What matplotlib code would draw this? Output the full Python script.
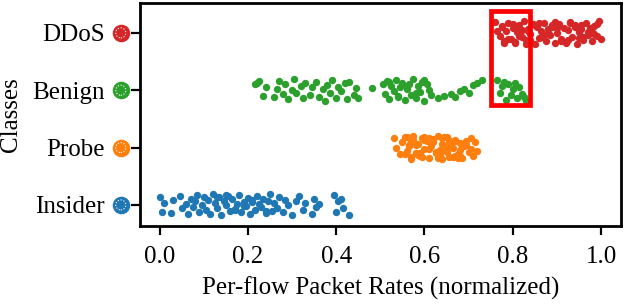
import matplotlib
matplotlib.use("Agg")
import matplotlib.pyplot as plt
import matplotlib.transforms as mtransforms
from matplotlib.patches import Rectangle

plt.rcParams['font.family'] = ['Liberation Serif', 'DejaVu Serif']

classes = ["Insider", "Probe", "Benign", "DDoS"]
colors = ["#1f77b4", "#ff7f0e", "#2ca02c", "#d62728"]

# normalized per-flow packet rates
insider_x = [0.00, 0.005, 0.01, 0.025, 0.03, 0.045, 0.05, 0.06, 0.065, 0.07,
             0.075, 0.08, 0.085, 0.09, 0.095, 0.10, 0.105, 0.11, 0.115, 0.12,
             0.125, 0.13, 0.135, 0.14, 0.145, 0.15, 0.155, 0.16, 0.165, 0.17,
             0.175, 0.18, 0.185, 0.19, 0.195, 0.20, 0.205, 0.21, 0.215, 0.22,
             0.225, 0.23, 0.235, 0.24, 0.245, 0.25, 0.255, 0.26, 0.265, 0.27,
             0.28, 0.285, 0.29, 0.30, 0.31, 0.315, 0.325, 0.33, 0.345, 0.35,
             0.355, 0.36, 0.395, 0.40, 0.405, 0.41, 0.415, 0.43, 0.13, 0.17,
             0.21, 0.24, 0.15, 0.19]
insider_jit = [0.14, -0.12, 0.03, -0.14, 0.09, 0.15, -0.06, 0.02, -0.16, 0.11,
               -0.03, 0.06, 0.17, -0.12, 0.00, 0.13, -0.08, 0.08, -0.15, 0.19,
               0.04, -0.05, 0.14, -0.18, 0.07, -0.01, 0.16, -0.11, 0.10, -0.07,
               0.01, 0.18, -0.13, 0.05, -0.02, 0.12, -0.16, 0.08, -0.09, 0.15,
               0.02, -0.04, 0.11, -0.14, 0.06, 0.19, -0.10, 0.03, -0.06, 0.13,
               -0.12, 0.09, 0.00, -0.17, 0.07, 0.16, -0.08, 0.04, -0.15, 0.11,
               -0.03, 0.01, 0.17, -0.13, 0.06, 0.10, -0.05, -0.18, 0.14, -0.09,
               0.05, -0.11, 0.18, -0.02]

probe_x = [0.53, 0.535, 0.545, 0.55, 0.555, 0.56, 0.565, 0.57, 0.575, 0.58,
           0.585, 0.59, 0.595, 0.60, 0.605, 0.61, 0.615, 0.62, 0.625, 0.63,
           0.635, 0.64, 0.645, 0.65, 0.655, 0.66, 0.665, 0.67, 0.675, 0.68,
           0.685, 0.69, 0.695, 0.70, 0.705, 0.71, 0.56, 0.57, 0.58, 0.59,
           0.60, 0.61, 0.62, 0.63, 0.64, 0.65, 0.66, 0.67, 0.68, 0.69,
           0.555, 0.575, 0.595, 0.615, 0.635, 0.655, 0.675, 0.695, 0.715, 0.72,
           0.565, 0.585, 0.605, 0.625, 0.645, 0.665, 0.685, 0.705, 0.59, 0.62,
           0.64, 0.66, 0.60, 0.63, 0.65, 0.67, 0.61, 0.68, 0.57, 0.58]
probe_jit = [0.16, 0.00, -0.12, 0.09, 0.19, -0.06, 0.04, -0.17, 0.13, -0.09,
             0.07, -0.15, 0.17, -0.02, 0.11, -0.19, 0.03, 0.15, -0.08, 0.20,
             -0.13, 0.06, -0.04, 0.18, -0.16, 0.10, -0.01, 0.14, -0.11, 0.08,
             -0.18, 0.02, 0.12, -0.07, 0.16, -0.14, 0.19, -0.20, 0.05, -0.10,
             0.14, -0.03, 0.09, -0.18, 0.17, -0.08, 0.01, 0.12, -0.15, 0.06,
             -0.11, 0.20, -0.16, 0.08, -0.05, 0.13, -0.19, 0.04, 0.10, -0.06,
             0.02, -0.13, 0.15, -0.09, 0.18, -0.17, 0.07, -0.02, -0.12, 0.11,
             -0.20, 0.03, 0.19, -0.07, 0.05, -0.14, 0.16, -0.04, 0.09, -0.10]

benign_x = [0.215, 0.22, 0.225, 0.235, 0.24,
            0.26, 0.265, 0.27, 0.28, 0.285, 0.29, 0.30, 0.305, 0.31, 0.32,
            0.325, 0.33, 0.34, 0.345,
            0.355, 0.36, 0.37, 0.375, 0.38, 0.385, 0.39, 0.40, 0.405, 0.41,
            0.42, 0.425, 0.43, 0.44, 0.445, 0.45,
            0.48, 0.505,
            0.51, 0.515, 0.52, 0.525, 0.53, 0.535, 0.54, 0.545, 0.55, 0.555,
            0.56, 0.565, 0.57, 0.575, 0.58, 0.585, 0.59, 0.595, 0.60, 0.605,
            0.61, 0.615, 0.52, 0.54, 0.56, 0.58, 0.60,
            0.63, 0.645, 0.66, 0.67, 0.68, 0.69, 0.70, 0.71, 0.72, 0.73,
            0.765, 0.77, 0.775, 0.78, 0.785, 0.79, 0.795, 0.80, 0.805, 0.81,
            0.815, 0.82, 0.825, 0.83]
benign_jit = [0.10, 0.13, 0.16, -0.10, 0.05,
              -0.12, 0.03, 0.16, -0.07, 0.10, -0.16, 0.00, 0.19, -0.04, 0.08,
              -0.14, 0.12, -0.09, 0.05,
              0.14, -0.11, 0.02, -0.18, 0.09, -0.05, 0.17, -0.13, 0.06, -0.02,
              0.12, -0.16, 0.15, -0.08, 0.04, -0.14,
              0.04, 0.11,
              -0.06, 0.16, -0.15, 0.08, -0.01, 0.18, -0.10, 0.05, 0.13, -0.17,
              0.02, 0.10, -0.08, 0.19, -0.13, 0.07, -0.03, 0.15, -0.18, 0.11,
              0.00, -0.09, 0.14, -0.12, 0.06, -0.05, 0.17,
              -0.14, -0.10, -0.06, -0.12, -0.01, 0.03, -0.04, 0.09, 0.13, 0.18,
              0.18, -0.04, 0.08, 0.15, -0.17, 0.11, -0.09, 0.03, 0.13, -0.14,
              0.06, -0.06, -0.12, -0.18]

ddos_x = [0.76, 0.77, 0.775, 0.78, 0.785, 0.79, 0.795, 0.80, 0.805, 0.81,
          0.815, 0.82, 0.825, 0.83, 0.835, 0.84, 0.845, 0.85, 0.855, 0.86,
          0.865, 0.87, 0.875, 0.88, 0.885, 0.89, 0.895, 0.90, 0.905, 0.91,
          0.915, 0.92, 0.925, 0.93, 0.935, 0.94, 0.945, 0.95, 0.955, 0.96,
          0.965, 0.97, 0.975, 0.98, 0.985, 0.99, 0.995, 1.00, 0.78, 0.80,
          0.82, 0.84, 0.86, 0.88, 0.90, 0.92, 0.94, 0.96, 0.98, 0.99,
          0.79, 0.81, 0.83, 0.85, 0.87, 0.89, 0.91, 0.93, 0.95, 0.97,
          0.775, 0.805, 0.835, 0.865, 0.895, 0.925, 0.955, 0.985, 0.765, 0.815]
ddos_jit = [0.19, -0.05, 0.12, -0.15, 0.04, 0.17, -0.10, 0.08, -0.18, 0.01,
            0.14, -0.07, 0.20, -0.13, 0.06, -0.02, 0.16, -0.19, 0.10, -0.09,
            0.03, 0.18, -0.14, 0.07, -0.04, 0.13, -0.17, 0.00, 0.15, -0.11,
            0.09, -0.16, 0.05, 0.19, -0.08, 0.11, -0.20, 0.02, 0.14, -0.12,
            0.17, -0.03, 0.08, -0.15, 0.12, -0.06, 0.20, -0.10, -0.17, 0.15,
            0.05, -0.13, 0.18, -0.01, 0.09, -0.18, 0.13, -0.07, 0.02, 0.16,
            -0.11, 0.07, -0.19, 0.14, -0.04, 0.10, -0.14, 0.17, -0.09, 0.01,
            0.11, -0.16, 0.04, -0.08, 0.19, -0.12, 0.06, -0.02, 0.03, -0.06]

xs = [insider_x, probe_x, benign_x, ddos_x]
jits = [insider_jit, probe_jit, benign_jit, ddos_jit]

fig = plt.figure(figsize=(6.24, 3.06), dpi=100)
ax = fig.add_axes([0.224, 0.261, 0.771, 0.729])

for i, (x, j) in enumerate(zip(xs, jits)):
    y = [i + v for v in j]
    ax.scatter(x, y, s=28, color=colors[i], linewidths=0, zorder=3)

# highlighted overlap region
ax.add_patch(Rectangle((0.75, 1.74), 0.089, 1.64, fill=False,
                       edgecolor="#ff0000", linewidth=3.4, zorder=4))

ax.set_xlim(-0.045, 1.045)
ax.set_ylim(-0.37, 3.52)
ax.set_xticks([0.0, 0.2, 0.4, 0.6, 0.8, 1.0])
ax.set_xticklabels(["0.0", "0.2", "0.4", "0.6", "0.8", "1.0"])
ax.set_yticks(range(4))
ax.set_yticklabels(classes)

# colored dots next to the class labels
trans = mtransforms.blended_transform_factory(ax.transAxes, ax.transData)
for i, c in enumerate(colors):
    ax.scatter([-0.0395], [i], s=160, color=c, linewidths=0,
               transform=trans, clip_on=False, zorder=5)
    ax.scatter([-0.0395], [i], s=52, facecolors="none", edgecolors="white",
               linewidths=0.8, linestyles=":", transform=trans,
               clip_on=False, zorder=6)

for s in ax.spines.values():
    s.set_linewidth(2.0)
ax.tick_params(axis="both", length=6.5, width=1.6, labelsize=18)
ax.tick_params(axis="y", pad=19)
ax.tick_params(axis="x", pad=8)

ax.set_xlabel("Per-flow Packet Rates (normalized)", fontsize=18, labelpad=6)
ax.set_ylabel("Classes", fontsize=18)
ax.yaxis.set_label_coords(-0.245, 0.5)

fig.savefig("out.png", dpi=100)
